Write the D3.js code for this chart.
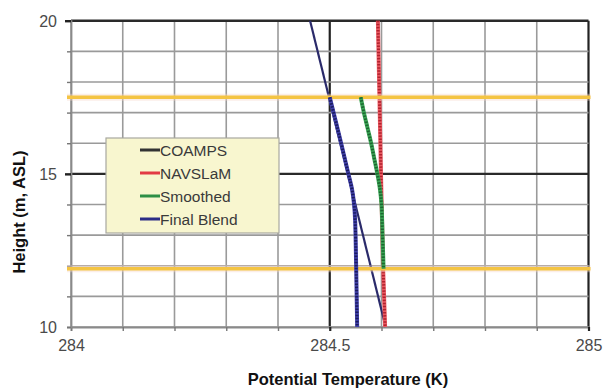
<!DOCTYPE html>
<html>
<head>
<meta charset="utf-8">
<script src="https://cdn.jsdelivr.net/npm/d3@7"></script>
<style>
  html, body { margin: 0; padding: 0; background: #fff; }
  svg { display: block; }
  text { font-family: "Liberation Sans", Arial, sans-serif; }
</style>
</head>
<body>
<svg id="chart" width="604" height="388"></svg>
<script>
// Axis ticks and grid
const temperatureLabels = [284, 284.5, 285];
const temperatureGrid = [284, 284.1, 284.2, 284.3, 284.4, 284.5, 284.6, 284.7, 284.8, 284.9, 285];
const heightLabels = [10, 15, 20];
const heightGrid = [10, 11, 12, 13, 14, 15, 16, 17, 18, 19, 20];

// Profiles: potential temperature (K) against height (m, ASL)
const coampsHeight = [20, 10];
const coampsTemp = [284.462, 284.608];

const navslamHeight = [20, 17.5, 15, 12, 10];
const navslamTemp = [284.593, 284.596, 284.599, 284.603, 284.607];

const smoothedHeight = [17.5, 17, 16.5, 16, 15.5, 15, 14.5, 14, 13, 11.9];
const smoothedTemp = [284.560, 284.566, 284.573, 284.580, 284.586, 284.592, 284.597, 284.600, 284.602, 284.604];

const blendHeight = [17.5, 16, 15, 14.5, 14, 13.5, 12, 10];
const blendTemp = [284.5, 284.522, 284.536, 284.543, 284.547, 284.549, 284.551, 284.553];

// Blending-zone limits
const blendLimits = [17.5, 11.9];

const seriesNames = ["COAMPS", "NAVSLaM", "Smoothed", "Final Blend"];
const seriesColors = ["#333333", "#e23a44", "#2e8f45", "#2c2c86"];

const svg = d3.select("#chart");
const plot = { left: 71, right: 588.5, top: 20.7, bottom: 327 };

const x = d3.scaleLinear().domain([284, 285]).range([plot.left, plot.right]);
const y = d3.scaleLinear().domain([10, 20]).range([plot.bottom, plot.top]);

const isMajorT = t => temperatureLabels.some(v => Math.abs(v - t) < 1e-6);
const isMajorH = h => heightLabels.includes(h);

// Grid
const grid = svg.append("g");
grid.selectAll("line.v").data(temperatureGrid).join("line")
  .attr("x1", d => x(d)).attr("x2", d => x(d))
  .attr("y1", plot.top).attr("y2", plot.bottom)
  .attr("stroke", d => (isMajorT(d) && d !== 284) ? "#222" : "#9a9a9a")
  .attr("stroke-width", d => (isMajorT(d) && d !== 284) ? 2.2 : 1.6);
grid.selectAll("line.h").data(heightGrid).join("line")
  .attr("x1", plot.left).attr("x2", plot.right)
  .attr("y1", d => y(d)).attr("y2", d => y(d))
  .attr("stroke", d => (isMajorH(d) && d !== 10) ? "#2a2a2a" : "#9a9a9a")
  .attr("stroke-width", d => (isMajorH(d) && d !== 10) ? 2.4 : 1.6);

// Axes
const xAxis = d3.axisBottom(x).tickValues(temperatureGrid).tickSize(4).tickPadding(6)
  .tickFormat(d => isMajorT(d) ? d3.format("")(d) : "");
const yAxis = d3.axisLeft(y).tickValues(heightGrid).tickSize(4).tickPadding(10)
  .tickFormat(d => isMajorH(d) ? d : "");

const gx = svg.append("g").attr("transform", `translate(0,${plot.bottom})`).call(xAxis);
const gy = svg.append("g").attr("transform", `translate(${plot.left},0)`).call(yAxis);
[gx, gy].forEach(g => {
  g.select(".domain").attr("stroke", "#8a8a8a").attr("stroke-width", 1.8);
  g.selectAll(".tick line").attr("stroke", "#777").attr("stroke-width", 1.4);
  g.selectAll(".tick text").attr("fill", "#4a4a4a").style("font-size", "16px");
});
gx.selectAll(".tick line").filter(d => isMajorT(d) && d !== 284).attr("stroke", "#222").attr("stroke-width", 2.2);
gy.selectAll(".tick line").filter(d => isMajorH(d) && d !== 10).attr("stroke", "#222").attr("stroke-width", 2.4).attr("x2", -6);
gx.selectAll(".tick text").attr("dy", "0.9em");
gy.selectAll(".tick text").attr("dy", "0.35em");

// Axis titles
svg.append("text")
  .attr("x", 348).attr("y", 385)
  .attr("text-anchor", "middle")
  .style("font-size", "16.5px").style("font-weight", "bold").attr("fill", "#111")
  .text("Potential Temperature (K)");
svg.append("text")
  .attr("transform", "translate(25,212) rotate(-90)")
  .attr("text-anchor", "middle")
  .style("font-size", "16.5px").style("font-weight", "bold").attr("fill", "#111")
  .text("Height (m, ASL)");

const toPoints = (temps, heights) => temps.map((t, i) => [t, heights[i]]);
const line = curve => d3.line().x(d => x(d[0])).y(d => y(d[1])).curve(curve);

// Draws a profile with closely packed markers along it
function markedProfile(points, base, dark, curve) {
  const g = svg.append("g");
  const path = line(curve)(points);
  g.append("path").attr("d", path).attr("fill", "none")
    .attr("stroke", base).attr("stroke-width", 4);
  g.append("path").attr("d", path).attr("fill", "none")
    .attr("stroke", dark).attr("stroke-width", 3)
    .attr("stroke-dasharray", "1.5,1.6");
}

// COAMPS profile
svg.append("path")
  .attr("d", line(d3.curveLinear)(toPoints(coampsTemp, coampsHeight)))
  .attr("fill", "none").attr("stroke", "#2a2a6a").attr("stroke-width", 2.2);

// NAVSLaM profile
markedProfile(toPoints(navslamTemp, navslamHeight), "#ea5a62", "#b0222e", d3.curveLinear);

// Blending-zone limits
const limits = svg.append("g");
limits.selectAll("line.halo").data(blendLimits).join("line")
  .attr("x1", plot.left - 4).attr("x2", plot.right + 2)
  .attr("y1", d => y(d)).attr("y2", d => y(d))
  .attr("stroke", "#f7d7c8").attr("stroke-width", 7).attr("opacity", 0.4);
limits.selectAll("line.core").data(blendLimits).join("line")
  .attr("x1", plot.left - 4).attr("x2", plot.right + 2)
  .attr("y1", d => y(d)).attr("y2", d => y(d))
  .attr("stroke", "#f4c443").attr("stroke-width", 3.4);

// Smoothed and final blend profiles
markedProfile(toPoints(smoothedTemp, smoothedHeight), "#3aa455", "#1c6630", d3.curveCatmullRom);
markedProfile(toPoints(blendTemp, blendHeight), "#4040a8", "#1a1a5e", d3.curveCatmullRom);

// Legend
const legend = svg.append("g").attr("transform", "translate(106,138)");
legend.append("rect").attr("width", 173).attr("height", 95)
  .attr("fill", "#f8f6cf").attr("stroke", "#a8a8a0").attr("stroke-width", 1.2);
seriesNames.forEach((name, i) => {
  const ly = 12 + i * 23;
  legend.append("line").attr("x1", 34).attr("x2", 54).attr("y1", ly).attr("y2", ly)
    .attr("stroke", seriesColors[i]).attr("stroke-width", 3);
  legend.append("text").attr("x", 54).attr("y", ly).attr("dy", "0.36em")
    .style("font-size", "15.5px").attr("fill", "#3a3a3a").text(name);
});
</script>
</body>
</html>
